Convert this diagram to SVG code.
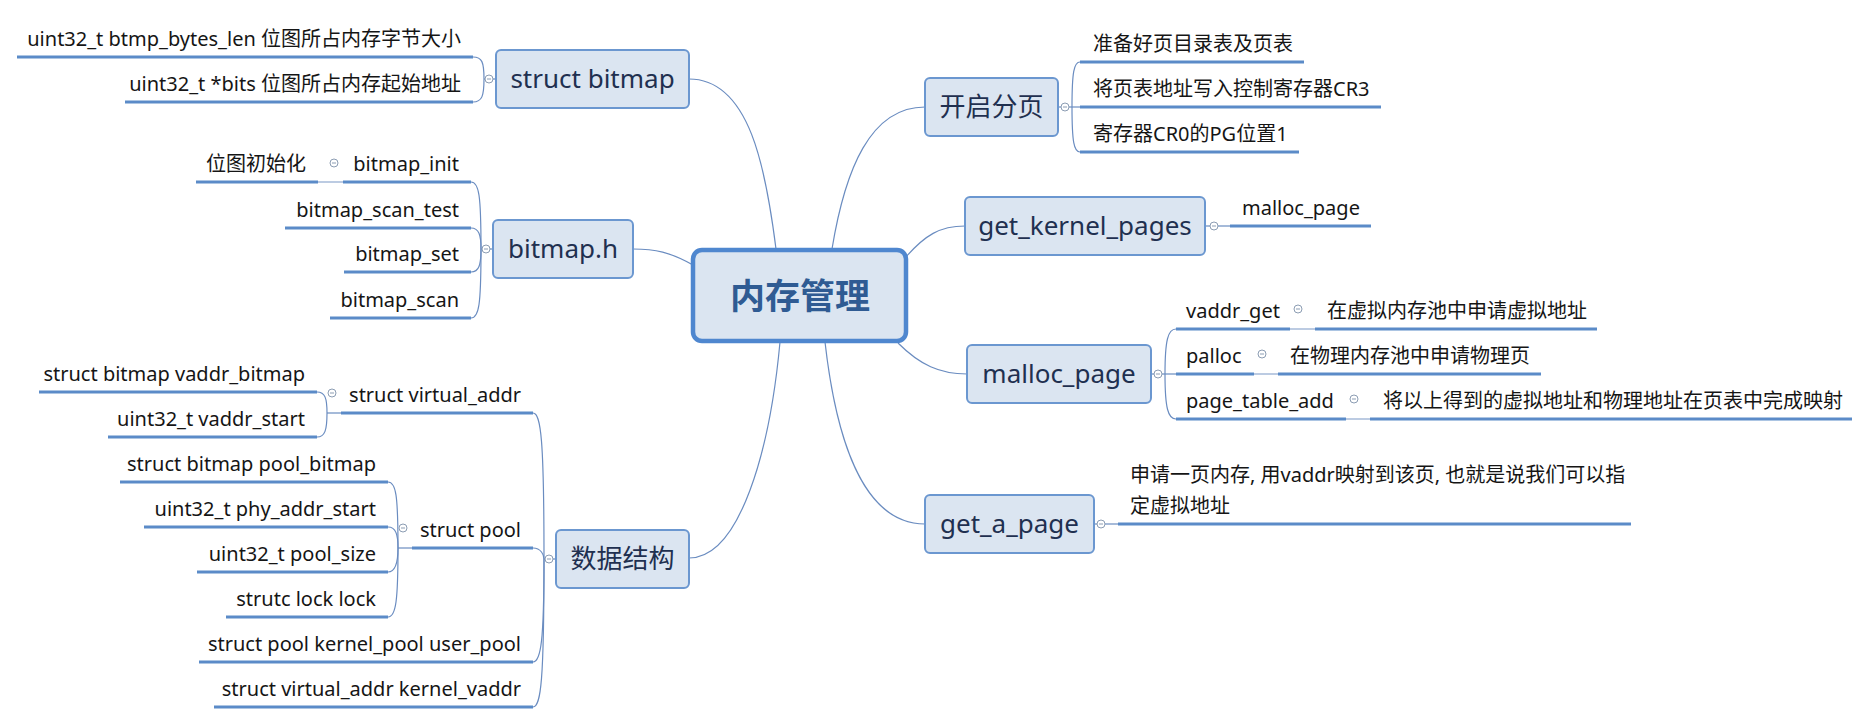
<svg xmlns="http://www.w3.org/2000/svg" xmlns:xlink="http://www.w3.org/1999/xlink" width="1871" height="723" viewBox="0 0 1871 723">
<style>
.bg{fill:#ffffff}
.box{fill:#dbe5f1;stroke:#6b97d0;stroke-width:2}
.root{fill:#dbe5f1;stroke:#4f87cf;stroke-width:4.5}
.rt{font-family:"Noto Sans","Noto Sans CJK SC",sans-serif;font-size:35px;font-weight:bold;fill:#2f5b93;text-anchor:middle}
.bt{font-family:"Noto Sans","Noto Sans CJK SC",sans-serif;font-size:26px;fill:#1f3050;text-anchor:middle}
.lt{font-family:"Noto Sans","Noto Sans CJK SC",sans-serif;font-size:20px;fill:#151515}
.le{text-anchor:end}
.ul{stroke:#5b8bc8;stroke-width:3;fill:none}
.cn{stroke:#6a8cc0;stroke-width:1.2;fill:none}
.tl{stroke:#8fa9cf;stroke-width:1.2;fill:none}
.cc{fill:#ffffff;stroke:#8c9db3;stroke-width:1}
</style>
<defs>
<g id="col"><circle class="cc" cx="0" cy="0" r="4"/><line x1="-2" y1="0" x2="2" y2="0" stroke="#8c9db3" stroke-width="1"/></g>
</defs>
<rect class="bg" x="0" y="0" width="1871" height="723"/>

<g id="connectors">
<!-- root to main branches -->
<path class="cn" d="M776,249 C766,170 750,79 689,79"/>
<path class="cn" d="M693,265 C670,252 655,249 633,249"/>
<path class="cn" d="M780,342 C770,450 740,558 689,558"/>
<path class="cn" d="M832,249 C845,170 870,107 925,107"/>
<path class="cn" d="M905,258 C925,235 940,226 965,226"/>
<path class="cn" d="M898,343 C920,365 940,374 967,374"/>
<path class="cn" d="M825,342 C835,430 860,524 925,524"/>

<!-- struct bitmap bracket -->
<path class="cn" d="M496,79 L484,79"/>
<path class="cn" d="M484,79 C484,62 482,57 473,57"/>
<path class="cn" d="M484,79 C484,96 482,102 473,102"/>
<!-- bitmap.h bracket -->
<path class="cn" d="M493,249 L481,249"/>
<path class="cn" d="M481,249 C481,195 479,182 471,182"/>
<path class="cn" d="M481,249 C481,235 479,228 471,228"/>
<path class="cn" d="M481,249 C481,265 479,272 471,272"/>
<path class="cn" d="M481,249 C481,305 479,318 471,318"/>
<path class="tl" d="M318,182 L343,182"/>
<!-- 数据结构 bracket -->
<path class="cn" d="M556,559 L544,559"/>
<path class="cn" d="M544,559 C544,440 541,413 533,413"/>
<path class="cn" d="M544,559 C544,555 541,548 533,548"/>
<path class="cn" d="M544,559 C544,640 541,662 533,662"/>
<path class="cn" d="M544,559 C544,680 541,707 533,707"/>
<!-- struct virtual_addr bracket -->
<path class="cn" d="M341,413 L327,413"/>
<path class="cn" d="M327,413 C327,398 325,392 317,392"/>
<path class="cn" d="M327,413 C327,430 325,437 317,437"/>
<!-- struct pool bracket -->
<path class="cn" d="M412,548 L398,548"/>
<path class="cn" d="M398,548 C398,495 396,482 388,482"/>
<path class="cn" d="M398,548 C398,535 396,527 388,527"/>
<path class="cn" d="M398,548 C398,562 396,572 388,572"/>
<path class="cn" d="M398,548 C398,600 396,617 388,617"/>
<!-- 开启分页 bracket -->
<path class="cn" d="M1058,107 L1072,107"/>
<path class="cn" d="M1072,107 C1072,72 1074,62 1080,62"/>
<path class="cn" d="M1072,107 L1080,107"/>
<path class="cn" d="M1072,107 C1072,142 1074,152 1080,152"/>
<!-- get_kernel_pages -->
<path class="cn" d="M1205,226 L1230,226"/>
<!-- malloc_page bracket -->
<path class="cn" d="M1151,374 L1165,374"/>
<path class="cn" d="M1165,374 C1165,340 1168,329 1176,329"/>
<path class="cn" d="M1165,374 L1176,374"/>
<path class="cn" d="M1165,374 C1165,408 1168,419 1176,419"/>
<path class="tl" d="M1290,329 L1315,329"/>
<path class="tl" d="M1254,374 L1278,374"/>
<path class="tl" d="M1346,419 L1370,419"/>
<!-- get_a_page -->
<path class="cn" d="M1094,524 L1118,524"/>
</g>

<g id="root">
<rect class="root" x="693" y="250" width="213" height="91" rx="9"/>
<text class="rt" x="800" y="309">内存管理</text>
</g>

<g id="n-struct-bitmap">
<rect class="box" x="496" y="50" width="193" height="58" rx="5"/>
<text class="bt" x="592.5" y="88">struct bitmap</text>
<use xlink:href="#col" x="489" y="79"/>
</g>
<g id="n-btmp-bytes-len">
<text class="lt le" x="461" y="46">uint32_t btmp_bytes_len 位图所占内存字节大小</text>
<line class="ul" x1="17" y1="57" x2="473" y2="57"/>
</g>
<g id="n-bits">
<text class="lt le" x="461" y="91">uint32_t *bits 位图所占内存起始地址</text>
<line class="ul" x1="125" y1="102" x2="473" y2="102"/>
</g>

<g id="n-bitmap-h">
<rect class="box" x="493" y="220" width="140" height="58" rx="5"/>
<text class="bt" x="563" y="258">bitmap.h</text>
<use xlink:href="#col" x="486" y="249"/>
</g>
<g id="n-bitmap-init">
<text class="lt le" x="459" y="171">bitmap_init</text>
<line class="ul" x1="343" y1="182" x2="471" y2="182"/>
<use xlink:href="#col" x="334" y="163"/>
</g>
<g id="n-bitmap-init-desc">
<text class="lt le" x="306" y="171">位图初始化</text>
<line class="ul" x1="196" y1="182" x2="318" y2="182"/>
</g>
<g id="n-bitmap-scan-test">
<text class="lt le" x="459" y="217">bitmap_scan_test</text>
<line class="ul" x1="285" y1="228" x2="471" y2="228"/>
</g>
<g id="n-bitmap-set">
<text class="lt le" x="459" y="261">bitmap_set</text>
<line class="ul" x1="344" y1="272" x2="471" y2="272"/>
</g>
<g id="n-bitmap-scan">
<text class="lt le" x="459" y="307">bitmap_scan</text>
<line class="ul" x1="330" y1="318" x2="471" y2="318"/>
</g>

<g id="n-data">
<rect class="box" x="556" y="530" width="133" height="58" rx="5"/>
<text class="bt" x="622.5" y="568">数据结构</text>
<use xlink:href="#col" x="549" y="559"/>
</g>
<g id="n-virtual-addr">
<text class="lt le" x="521" y="402">struct virtual_addr</text>
<line class="ul" x1="341" y1="413" x2="533" y2="413"/>
<use xlink:href="#col" x="332" y="393"/>
</g>
<g id="n-vaddr-bitmap">
<text class="lt le" x="305" y="381">struct bitmap vaddr_bitmap</text>
<line class="ul" x1="39" y1="392" x2="317" y2="392"/>
</g>
<g id="n-vaddr-start">
<text class="lt le" x="305" y="426">uint32_t vaddr_start</text>
<line class="ul" x1="108" y1="437" x2="317" y2="437"/>
</g>
<g id="n-pool">
<text class="lt le" x="521" y="537">struct pool</text>
<line class="ul" x1="412" y1="548" x2="533" y2="548"/>
<use xlink:href="#col" x="403" y="528"/>
</g>
<g id="n-pool-bitmap">
<text class="lt le" x="376" y="471">struct bitmap pool_bitmap</text>
<line class="ul" x1="120" y1="482" x2="388" y2="482"/>
</g>
<g id="n-phy-addr-start">
<text class="lt le" x="376" y="516">uint32_t phy_addr_start</text>
<line class="ul" x1="144" y1="527" x2="388" y2="527"/>
</g>
<g id="n-pool-size">
<text class="lt le" x="376" y="561">uint32_t pool_size</text>
<line class="ul" x1="197" y1="572" x2="388" y2="572"/>
</g>
<g id="n-lock">
<text class="lt le" x="376" y="606">strutc lock lock</text>
<line class="ul" x1="226" y1="617" x2="388" y2="617"/>
</g>
<g id="n-kernel-pool">
<text class="lt le" x="521" y="651">struct pool kernel_pool user_pool</text>
<line class="ul" x1="199" y1="662" x2="533" y2="662"/>
</g>
<g id="n-kernel-vaddr">
<text class="lt le" x="521" y="696">struct virtual_addr kernel_vaddr</text>
<line class="ul" x1="214" y1="707" x2="533" y2="707"/>
</g>

<g id="n-paging">
<rect class="box" x="925" y="78" width="133" height="58" rx="5"/>
<text class="bt" x="991.5" y="116">开启分页</text>
<use xlink:href="#col" x="1065" y="107"/>
</g>
<g id="n-paging-1">
<text class="lt" x="1093" y="51">准备好页目录表及页表</text>
<line class="ul" x1="1080" y1="62" x2="1304" y2="62"/>
</g>
<g id="n-paging-2">
<text class="lt" x="1093" y="96">将页表地址写入控制寄存器CR3</text>
<line class="ul" x1="1080" y1="107" x2="1381" y2="107"/>
</g>
<g id="n-paging-3">
<text class="lt" x="1093" y="141">寄存器CR0的PG位置1</text>
<line class="ul" x1="1080" y1="152" x2="1299" y2="152"/>
</g>

<g id="n-get-kernel-pages">
<rect class="box" x="965" y="197" width="240" height="58" rx="5"/>
<text class="bt" x="1085" y="235">get_kernel_pages</text>
<use xlink:href="#col" x="1214" y="226"/>
</g>
<g id="n-gkp-malloc">
<text class="lt" x="1242" y="215">malloc_page</text>
<line class="ul" x1="1230" y1="226" x2="1371" y2="226"/>
</g>

<g id="n-malloc-page">
<rect class="box" x="967" y="345" width="184" height="58" rx="5"/>
<text class="bt" x="1059" y="383">malloc_page</text>
<use xlink:href="#col" x="1158" y="374"/>
</g>
<g id="n-vaddr-get">
<text class="lt" x="1186" y="318">vaddr_get</text>
<line class="ul" x1="1176" y1="329" x2="1290" y2="329"/>
<use xlink:href="#col" x="1298" y="309"/>
</g>
<g id="n-vaddr-get-desc">
<text class="lt" x="1327" y="318">在虚拟内存池中申请虚拟地址</text>
<line class="ul" x1="1315" y1="329" x2="1597" y2="329"/>
</g>
<g id="n-palloc">
<text class="lt" x="1186" y="363">palloc</text>
<line class="ul" x1="1176" y1="374" x2="1254" y2="374"/>
<use xlink:href="#col" x="1262" y="354"/>
</g>
<g id="n-palloc-desc">
<text class="lt" x="1290" y="363">在物理内存池中申请物理页</text>
<line class="ul" x1="1278" y1="374" x2="1541" y2="374"/>
</g>
<g id="n-page-table-add">
<text class="lt" x="1186" y="408">page_table_add</text>
<line class="ul" x1="1176" y1="419" x2="1346" y2="419"/>
<use xlink:href="#col" x="1354" y="399"/>
</g>
<g id="n-page-table-add-desc">
<text class="lt" x="1383" y="408">将以上得到的虚拟地址和物理地址在页表中完成映射</text>
<line class="ul" x1="1370" y1="419" x2="1852" y2="419"/>
</g>

<g id="n-get-a-page">
<rect class="box" x="925" y="495" width="169" height="58" rx="5"/>
<text class="bt" x="1009.5" y="533">get_a_page</text>
<use xlink:href="#col" x="1101" y="524"/>
</g>
<g id="n-get-a-page-desc">
<text class="lt" x="1130" y="482">申请一页内存, 用vaddr映射到该页, 也就是说我们可以指</text>
<text class="lt" x="1130" y="513">定虚拟地址</text>
<line class="ul" x1="1118" y1="524" x2="1631" y2="524"/>
</g>
</svg>
